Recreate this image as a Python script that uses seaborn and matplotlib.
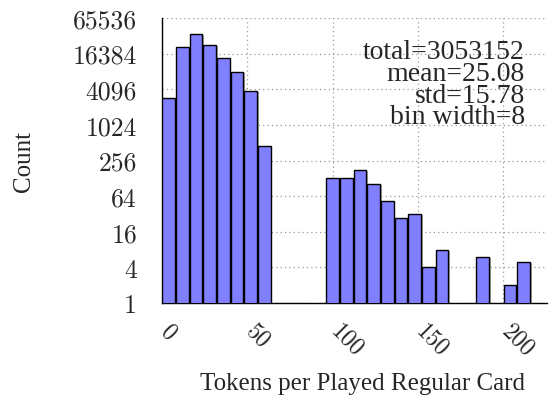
import numpy as np
import pandas as pd
import matplotlib
matplotlib.use("Agg")
import matplotlib.pyplot as plt
import matplotlib.patheffects as pe
import matplotlib.transforms as mtransforms
import seaborn as sns

# ---- data ----
bin_left = [0, 8, 16, 24, 32, 40, 48, 56, 96, 104, 112, 120, 128, 136, 144, 152, 160, 184, 200, 208]
counts = [2950, 21000, 35700, 23200, 13700, 7900, 3830, 456, 128, 128, 175, 103, 52, 27, 32, 4, 8, 6, 2, 5]
bin_width = 8
x_ticks = [0, 50, 100, 150, 200]
x_tick_labels = ["0", "50", "100", "150", "200"]
y_ticks = [1, 4, 16, 64, 256, 1024, 4096, 16384, 65536]
y_tick_labels = ["1", "4", "16", "64", "256", "1024", "4096", "16384", "65536"]
stats_text = "total=3053152\nmean=25.08\nstd=15.78\nbin width=8"
x_label = "Tokens per Played Regular Card"
y_label = "Count"

df = pd.DataFrame({"center": np.array(bin_left) + bin_width / 2, "count": counts})

sns.set_style("white")
plt.rcParams["font.family"] = "serif"
plt.rcParams["font.serif"] = ["Liberation Serif", "DejaVu Serif"]
SERIF = "Liberation Serif"

fig = plt.figure(figsize=(5.56, 4.06), dpi=100)
ax = fig.add_axes([162 / 556, 1 - 304 / 406, 385 / 556, 285 / 406])

sns.histplot(data=df, x="center", weights="count", binwidth=bin_width,
             binrange=(0, max(bin_left) + bin_width), shrink=0.93, ax=ax,
             color="#8080ff", alpha=1.0, edgecolor="black", linewidth=1.0, zorder=3)
for p in ax.patches:
    if p.get_height() <= 0:
        p.set_visible(False)
        continue
    p.set_path_effects([pe.SimplePatchShadow(offset=(1.2, -0.8), shadow_rgbFace="gray", alpha=0.7),
                        pe.Normal()])

ax.set_yscale("log", base=2)
ax.set_ylim(1, 65536)
ax.set_xlim(0, 225.6)
ax.set_yticks(y_ticks)
ax.set_yticklabels(y_tick_labels, fontfamily="cmr10", fontsize=18.5)
ax.yaxis.set_minor_locator(matplotlib.ticker.NullLocator())
ax.set_xticks(x_ticks)
ax.set_xticklabels(x_tick_labels, fontfamily="cmr10", fontsize=17, rotation=-45, ha="left", va="top")

ax.tick_params(axis="both", direction="out", length=4, width=0.8, color="#444444")
ax.tick_params(axis="y", pad=14)
ax.tick_params(axis="x", pad=8)

shift = mtransforms.ScaledTranslation(-6 / 100, 0, fig.dpi_scale_trans)
for lbl in ax.get_xticklabels():
    lbl.set_transform(lbl.get_transform() + shift)

ax.grid(True, which="major", linestyle=(0, (1, 2.5)), color="#999999", linewidth=0.9, zorder=0)
ax.set_axisbelow(True)
for s in ["top", "right"]:
    ax.spines[s].set_visible(False)
for s in ["left", "bottom"]:
    ax.spines[s].set_color("black")
    ax.spines[s].set_linewidth(1.0)

ax.set_xlabel(x_label, fontsize=18, fontfamily=SERIF)
ax.xaxis.set_label_coords((363 - 162) / 385, -0.243)
ax.set_ylabel(y_label, fontsize=18, fontfamily=SERIF)
ax.yaxis.set_label_coords((35 - 162) / 385, 0.5)

ax.text((525 - 162) / 385, (304 - 40) / 285, stats_text, transform=ax.transAxes,
        ha="right", va="top", fontsize=20, linespacing=0.83, multialignment="right",
        fontfamily=SERIF, zorder=5)

fig.savefig("out.png", dpi=100)
